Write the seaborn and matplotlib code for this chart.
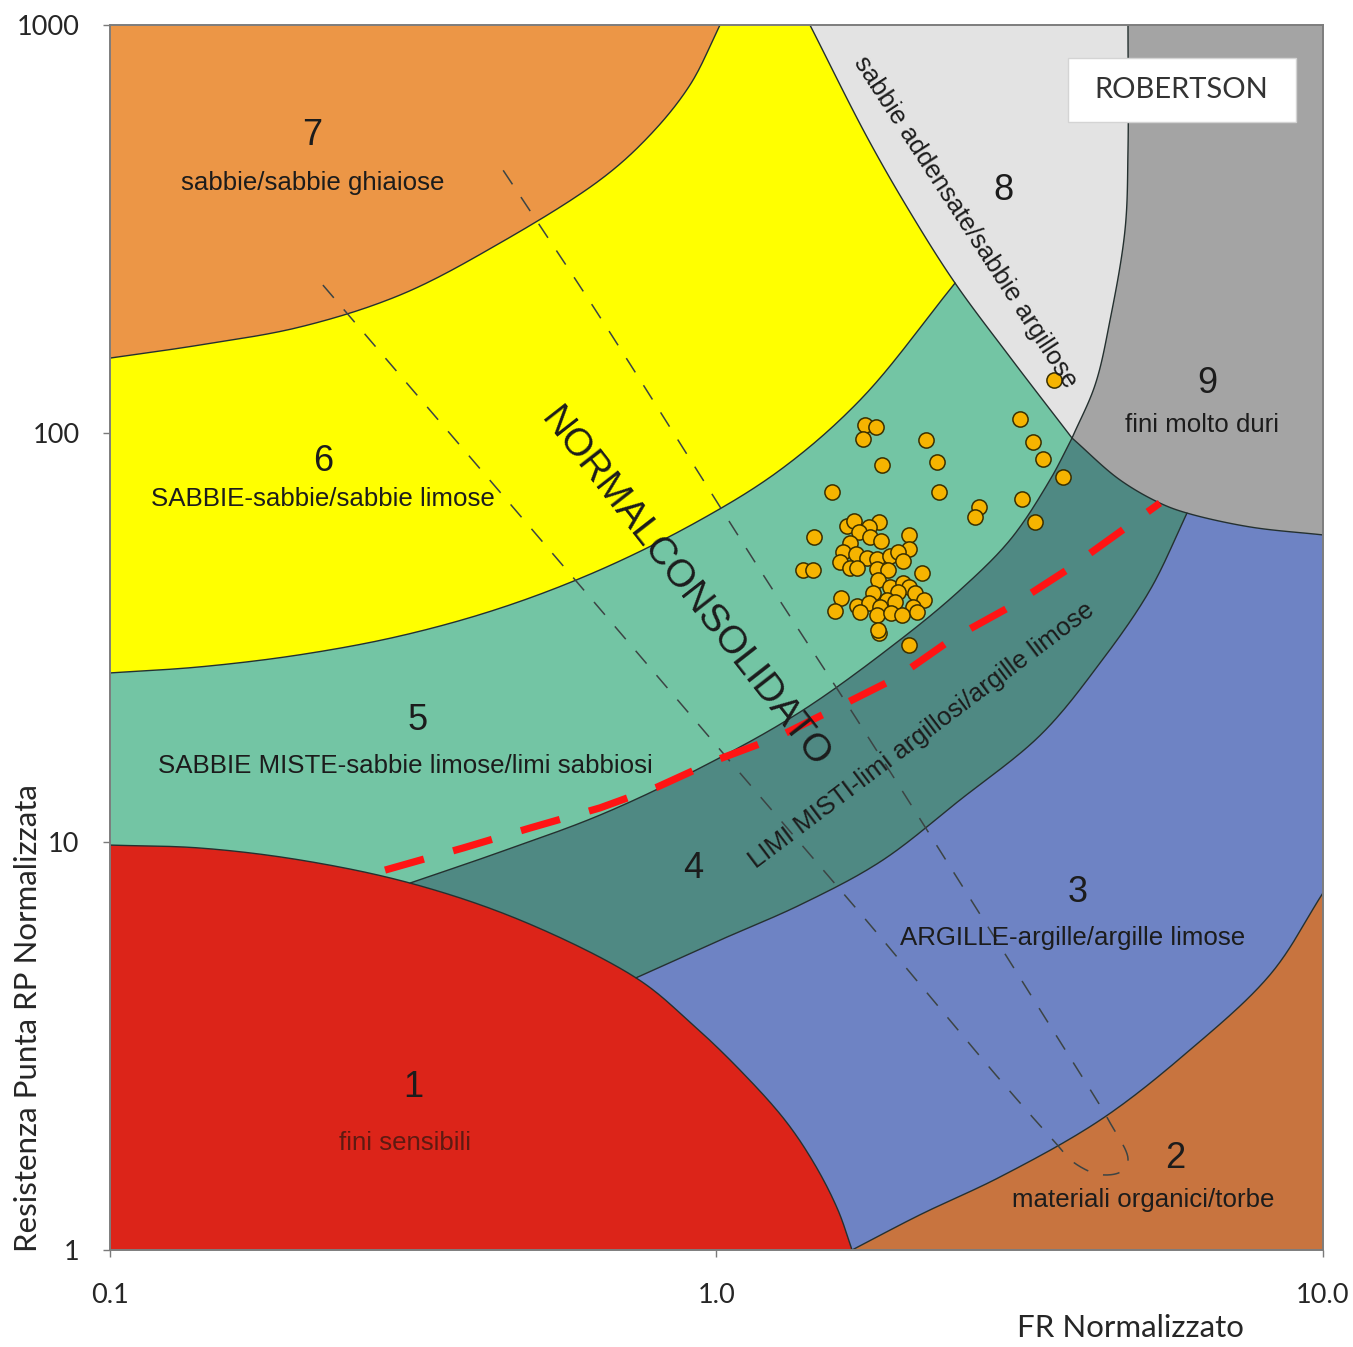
import numpy as np
import pandas as pd
import matplotlib
matplotlib.use("Agg")
import matplotlib.pyplot as plt
from matplotlib.patches import Rectangle
import seaborn as sns

# ---------------------------------------------------------------------------
# Zone boundaries of the Robertson (1990) chart: (FR normalised %, Qt normalised)
# ---------------------------------------------------------------------------
# upper limit of zone 1 (passes the 1/5/4 and 1/4/3 junctions, points 3 and 5)
b1_fr = [0.1, 0.1407, 0.2058, 0.3124, 0.4742, 0.7367, 0.9043, 1.093, 1.297, 1.454, 1.586, 1.673]
b1_qt = [9.81, 9.65, 9.02, 7.92, 6.43, 4.64, 3.615, 2.76, 2.08, 1.615, 1.253, 1.0]
# zone 5 / zone 4
b45_fr = [0.3124, 0.4395, 0.6426, 0.9393, 1.373, 2.007, 2.52, 3.047, 3.547, 3.857]
b45_qt = [7.92, 9.43, 11.62, 15.15, 20.77, 31.2, 41.3, 54.8, 76.9, 97.4]
# zone 4 / zone 3
b34_fr = [0.7367, 1.0134, 1.373, 1.86, 2.52, 3.415, 4.29, 5.184, 5.968]
b34_qt = [4.64, 5.74, 7.0, 8.92, 12.65, 18.2, 27.4, 41.3, 63.8]
# lower limit of zone 9 (4/9 then 3/9, junction at point 3)
b9_fr = [3.857, 4.628, 5.385, 5.968, 7.58, 10.0]
b9_qt = [97.4, 76.9, 67.5, 63.8, 59.0, 56.4]
# zone 3 / zone 2
b23_fr = [10.0, 8.177, 6.035, 4.29, 2.935, 2.166, 1.673]
b23_qt = [7.49, 4.72, 3.09, 2.08, 1.51, 1.22, 1.0]
# zone 8 / zone 9
b89_fr = [4.77, 4.77, 4.716, 4.456, 4.209, 3.857]
b89_qt = [1000, 494.2, 314.8, 189.5, 131.3, 97.4]
# left limit of zone 8 (6/8 then 5/8, junction at point 3)
b8_fr = [1.4262, 1.771, 2.085, 2.474, 3.047, 3.857]
b8_qt = [1000, 531.8, 348.3, 233.4, 153.8, 97.4]
# zone 7 / zone 6
b67_fr = [0.1, 0.1407, 0.2058, 0.3008, 0.4395, 0.6426, 0.7771, 0.9043, 1.0134]
b67_qt = [152.9, 164.6, 182.2, 218.2, 292.5, 417.4, 537.9, 713.2, 1000]
# zone 6 / zone 5
b56_fr = [0.1, 0.1407, 0.2058, 0.3008, 0.4395, 0.6426, 0.9393, 1.2726, 1.725, 2.474]
b56_qt = [25.9, 26.8, 28.7, 31.9, 37.3, 46.3, 61.3, 81.3, 120.7, 233.4]

# normally consolidated band (dashed)
nc_fr = [0.2244, 0.4925, 1.0134, 1.725, 2.935, 3.588, 3.901, 4.29, 4.628, 4.77,
         4.456, 3.784, 2.649, 1.705, 1.1797, 0.6426, 0.4446]
nc_qt = [230.8, 59.0, 16.8, 6.69, 2.61, 1.86, 1.63, 1.53, 1.55, 1.66,
         2.05, 3.04, 7.07, 19.9, 46.3, 192.7, 441.5]

# red dashed trend line
trend_fr = [0.2841, 0.382, 0.4925, 0.6426, 0.798, 1.0, 1.258, 1.58, 1.981, 2.455, 3.047, 3.784, 5.385]
trend_qt = [8.52, 9.65, 10.8, 12.1, 13.6, 15.85, 18.0, 21.3, 25.2, 31.5, 37.6, 46.3, 67.5]

# CPT data points
fr_pts = [1.758, 1.832, 1.745, 2.216, 1.874, 2.31, 1.55, 2.328, 3.165, 3.325, 3.453, 3.727,
          3.189, 2.71, 2.669, 3.35, 1.448, 1.641, 1.686, 1.853, 1.785, 1.718, 1.791, 1.867,
          2.077, 1.66, 1.617, 1.698, 2.077, 1.771, 1.839, 1.932, 1.992, 2.03, 1.598, 1.66,
          1.705, 1.839, 1.918, 1.389, 1.44, 2.182, 1.846, 1.932, 2.03, 2.077, 1.812, 1.992,
          2.125, 1.604, 1.91, 1.969, 2.199, 1.705, 1.785, 1.86, 2.109, 1.568, 1.725, 1.839,
          1.939, 2.022, 2.141, 1.853, 1.846, 2.077, 3.602]
qt_pts = [104.8, 103.6, 96.9, 96.3, 83.6, 85.1, 71.9, 71.9, 108.4, 95.2, 86.5, 78.2,
          69.1, 66.0, 62.4, 60.7, 55.7, 59.3, 61.0, 60.7, 59.0, 57.3, 55.7, 54.5,
          56.4, 53.9, 51.2, 50.7, 52.1, 49.5, 49.3, 50.1, 51.2, 48.7, 48.4, 46.8,
          46.8, 46.5, 46.3, 46.3, 46.3, 45.5, 43.8, 42.1, 43.0, 42.1, 40.6, 40.9,
          40.6, 39.5, 39.1, 38.6, 39.1, 37.8, 38.4, 37.6, 37.6, 36.7, 36.5, 35.9,
          36.3, 35.9, 36.5, 32.4, 33.0, 30.3, 135.1]

zone_colors = {
    1: "#DC2419", 2: "#C8743F", 3: "#6E83C4", 4: "#4F8983", 5: "#73C5A4",
    6: "#FFFF00", 7: "#EC9646", 8: "#E3E3E3", 9: "#A4A4A4",
}

N = 24


def curve(fr, qt, n=N):
    """Centripetal Catmull-Rom curve through the points, built in log-log space."""
    p = np.column_stack([np.log10(fr), np.log10(qt)])
    ext = np.vstack([2 * p[0] - p[1], p, 2 * p[-1] - p[-2]])
    segs = []
    for i in range(1, len(ext) - 2):
        p0, p1, p2, p3 = ext[i - 1], ext[i], ext[i + 1], ext[i + 2]
        t0 = 0.0
        t1 = t0 + np.linalg.norm(p1 - p0) ** 0.5 + 1e-9
        t2 = t1 + np.linalg.norm(p2 - p1) ** 0.5 + 1e-9
        t3 = t2 + np.linalg.norm(p3 - p2) ** 0.5 + 1e-9
        t = np.linspace(t1, t2, n, endpoint=False)[:, None]
        a1 = (t1 - t) / (t1 - t0) * p0 + (t - t0) / (t1 - t0) * p1
        a2 = (t2 - t) / (t2 - t1) * p1 + (t - t1) / (t2 - t1) * p2
        a3 = (t3 - t) / (t3 - t2) * p2 + (t - t2) / (t3 - t2) * p3
        q1 = (t2 - t) / (t2 - t0) * a1 + (t - t0) / (t2 - t0) * a2
        q2 = (t3 - t) / (t3 - t1) * a2 + (t - t1) / (t3 - t1) * a3
        segs.append((t2 - t) / (t2 - t1) * q1 + (t - t1) / (t2 - t1) * q2)
    segs.append(p[-1][None, :])
    return 10 ** np.vstack(segs)


c1 = curve(b1_fr, b1_qt)
c45 = curve(b45_fr, b45_qt)
c34 = curve(b34_fr, b34_qt)
c9 = curve(b9_fr, b9_qt)
c23 = curve(b23_fr, b23_qt)
c89 = curve(b89_fr, b89_qt)
c8 = curve(b8_fr, b8_qt)
c67 = curve(b67_fr, b67_qt)
c56 = curve(b56_fr, b56_qt)

polys = {
    7: np.vstack([[[0.1, 1000]], c67]),
    6: np.vstack([c67, c8[:3 * N + 1], c56[::-1]]),
    8: np.vstack([c8, c89[::-1]]),
    9: np.vstack([c89, c9, [[10, 1000]]]),
    5: np.vstack([c56, c8[3 * N:], c45[::-1], c1[:3 * N + 1][::-1]]),
    4: np.vstack([c45, c9[:3 * N + 1], c34[::-1], c1[3 * N:5 * N + 1][::-1]]),
    3: np.vstack([c34, c9[3 * N:], c23, c1[5 * N:][::-1]]),
    2: np.vstack([c23, [[10, 1]]]),
    1: np.vstack([[[0.1, 1]], c1]),
}

sns.set_theme(style="white")
plt.rcParams["font.family"] = ["Liberation Sans", "DejaVu Sans"]

fig = plt.figure(figsize=(13.53, 13.47), dpi=100)
ax = fig.add_axes([0.0813, 0.072, 0.8965, 0.9094])
ax.set_xscale("log")
ax.set_yscale("log")
ax.set_xlim(0.1, 10)
ax.set_ylim(1, 1000)

for z, poly in polys.items():
    ax.fill(poly[:, 0], poly[:, 1], color=zone_colors[z], lw=0, zorder=1)

for c in (c1, c45, c34, c9, c23, c89, c8, c67, c56):
    ax.plot(c[:, 0], c[:, 1], color="#24302f", lw=1.0, zorder=2)

cnc = curve(nc_fr, nc_qt)
ax.plot(cnc[:, 0], cnc[:, 1], color="#3c4444", lw=1.1, dashes=(11, 10), zorder=3)

ax.plot(trend_fr, trend_qt, color="#FF1414", lw=5.2, dashes=(5.6, 4.2),
        solid_capstyle="butt", dash_capstyle="butt", zorder=4)

df = pd.DataFrame({"FR": fr_pts, "Qt": qt_pts})
sns.scatterplot(data=df, x="FR", y="Qt", ax=ax, s=120, color="#F6B400",
                edgecolor="#3a2f00", linewidth=1.1, zorder=6, legend=False)

# zone labels
txt = dict(color="#1c1c1c", ha="center", va="center", zorder=7)
num = 26
lab = 18.6
ax.text(0.2153, 537.9, "7", fontsize=num, **txt)
ax.text(0.2159, 410.3, "sabbie/sabbie ghiaiose", fontsize=lab, **txt)
ax.text(0.2244, 85.1, "6", fontsize=num, **txt)
ax.text(0.2244, 69.1, "SABBIE-sabbie/sabbie limose", fontsize=lab, **txt)
ax.text(0.322, 19.86, "5", fontsize=num, **txt)
ax.text(0.3065, 15.32, "SABBIE MISTE-sabbie limose/limi sabbiosi", fontsize=lab, **txt)
ax.text(0.915, 8.62, "4", fontsize=num, **txt)
ax.text(2.182, 18.2, "LIMI MISTI-limi argillosi/argille limose", fontsize=18.5,
        rotation=37, rotation_mode="anchor", **txt)
ax.text(3.945, 7.49, "3", fontsize=num, **txt)
ax.text(3.87, 5.81, "ARGILLE-argille/argille limose", fontsize=lab, **txt)
ax.text(5.70, 1.68, "2", fontsize=num, **txt)
ax.text(5.05, 1.326, "materiali organici/torbe", fontsize=lab, **txt)
ax.text(0.3159, 2.507, "1", fontsize=num, **txt)
ax.text(0.3065, 1.828, "fini sensibili", fontsize=lab, color="#5e1a12",
        ha="center", va="center", zorder=7)
ax.text(2.968, 394.3, "8", fontsize=num, **txt)
ax.text(2.57, 329.3, "sabbie addensate/sabbie argillose", fontsize=18.5,
        rotation=-57, rotation_mode="anchor", **txt)
ax.text(6.437, 132.8, "9", fontsize=num, **txt)
ax.text(6.316, 104.8, "fini molto duri", fontsize=lab, **txt)
ax.text(0.887, 41.8, "NORMALCONSOLIDATO", fontsize=28, rotation=-52,
        rotation_mode="anchor", **txt)

# title box
ax.add_patch(Rectangle((0.7898, 0.9208), 0.188, 0.0522, transform=ax.transAxes,
                       facecolor="white", edgecolor="#d4d4d4", lw=1, zorder=8))
ax.text(0.883, 0.947, "ROBERTSON", transform=ax.transAxes, fontsize=21,
        family=["Lato", "DejaVu Sans"], color="#333333", ha="center", va="center",
        zorder=9)

# axes styling
ax.set_xticks([0.1, 1, 10])
ax.set_xticklabels(["0.1", "1.0", "10.0"])
ax.set_yticks([1, 10, 100, 1000])
ax.set_yticklabels(["1", "10", "100", "1000"])
ax.minorticks_off()
ax.tick_params(axis="both", which="major", direction="out", length=5, width=1,
               color="#7a7a7a", labelsize=19.5, labelcolor="#262626",
               left=True, bottom=True)
ax.tick_params(axis="x", pad=19)
ax.tick_params(axis="y", pad=17)
for lbl in ax.get_xticklabels() + ax.get_yticklabels():
    lbl.set_fontfamily(["Lato", "DejaVu Sans"])
for sp in ax.spines.values():
    sp.set_color("#7d7d7d")
    sp.set_linewidth(1.4)
    sp.set_zorder(10)

ax.set_xlabel("FR Normalizzato", fontsize=22.5, family=["Lato", "DejaVu Sans"],
              color="#262626", va="center")
ax.set_ylabel("Resistenza Punta RP Normalizzata", fontsize=22.5,
              family=["Lato", "DejaVu Sans"], color="#262626", va="center")
ax.xaxis.set_label_coords(0.841, -0.064)
ax.yaxis.set_label_coords(-0.0676, 0.189)

fig.savefig("out.png", dpi=100)
